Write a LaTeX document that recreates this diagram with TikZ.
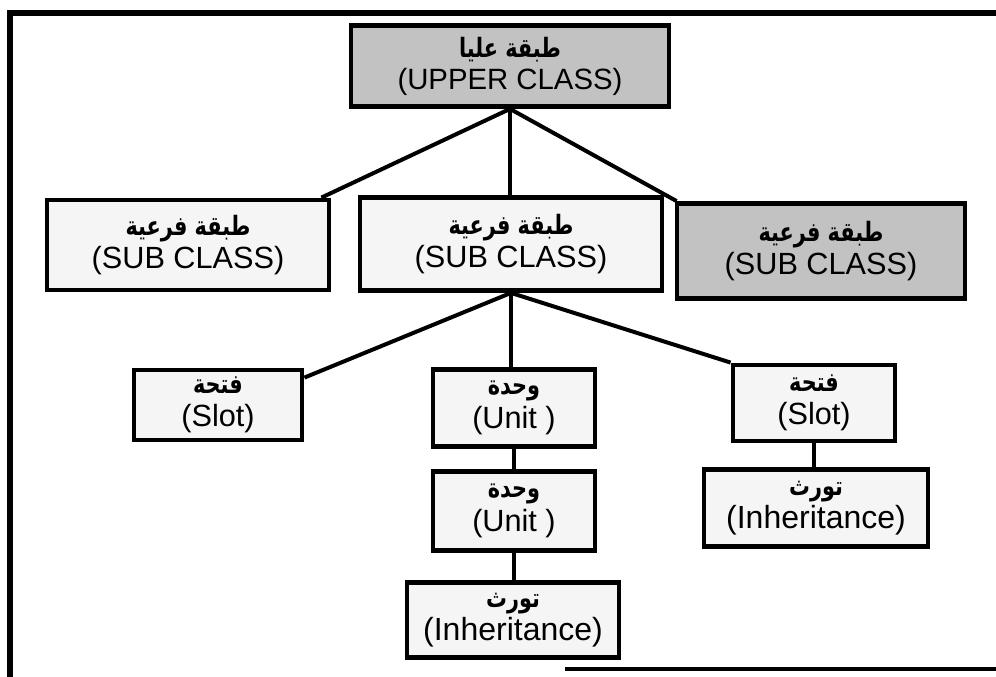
\documentclass[tikz,border=0pt]{standalone}
\usepackage{fontspec}
\setmainfont{Liberation Sans}
\newfontfamily\arabicfont[Script=Arabic]{DejaVu Sans}
\TeXXeTstate=1
\usetikzlibrary{calc}
\newcommand{\artxt}[1]{\scalebox{0.78}[1]{\arabicfont\bfseries\fontsize{20}{22}\selectfont\beginR #1\endR}}
\begin{document}
\begin{tikzpicture}[x=0.75pt,y=-0.75pt,
  bx/.style 2 args={draw=black, line width=3.6pt, rectangle,
    minimum width=#1*0.75pt, minimum height=#2*0.75pt, inner sep=0pt,
    align=center, font=\fontsize{23}{25}\selectfont},
  big/.style={font=\fontsize{24}{25}\selectfont},
  small/.style={font=\fontsize{22}{24}\selectfont},
  dense/.style={fill=black!24},
  light/.style={fill=black!4},
  link/.style={line width=3pt},
  frame/.style={line width=4pt},
]
\useasboundingbox (0,0) rectangle (996,677);
% frame
\coordinate (ftl) at (10,13);
\coordinate (ftr) at (996,13);
\coordinate (fbl) at (10,677);
\coordinate (fb1) at (565,669);
\coordinate (fb2) at (996,669);
\draw[frame] (ftr) -- (ftl) -- (fbl);
\draw[line width=2.5pt] (fb1) -- (fb2);
% nodes
\node[bx={318}{81}, dense, small] (up) at (510,66) {\artxt{طبقة عليا}\\(UPPER CLASS)};
\node[bx={282}{90}, light] (s1) at (188,245) {\artxt{طبقة فرعية}\\(SUB CLASS)};
\node[bx={302}{93}, light] (s2) at (511,244) {\artxt{طبقة فرعية}\\(SUB CLASS)};
\node[bx={288}{95}, dense] (s3) at (821,251) {\artxt{طبقة فرعية}\\(SUB CLASS)};
\node[bx={168}{70}, light] (sl1) at (218,405) {\artxt{فتحة}\\(Slot)};
\node[bx={162}{77}, light] (u1) at (514,408) {\artxt{وحدة}\\(Unit )};
\node[bx={162}{76}, light] (sl2) at (814,403) {\artxt{فتحة}\\(Slot)};
\node[bx={162}{79}, light] (u2) at (514,511) {\artxt{وحدة}\\(Unit )};
\node[bx={224}{77}, light, big] (in2) at (816,508) {\artxt{تورث}\\(Inheritance)};
\node[bx={212}{75}, light, big] (in1) at (513,620) {\artxt{تورث}\\(Inheritance)};
% connectors
\draw[link] (up.south) -- ($(s1.north east)+(-10,0)$);
\draw[link] (up.south) -- (up.south |- s2.north);
\draw[link] (up.south) -- ($(s3.north west)+(2,0)$);
\draw[link] (s2.south) -- ($(sl1.north east)+(0,10)$);
\draw[link] (s2.south) -- (s2.south |- u1.north);
\draw[link] (s2.south) -- (sl2.north west);
\draw[link] (sl2.south) -- (sl2.south |- in2.north);
\draw[link] (u1.south) -- (u1.south |- u2.north);
\draw[link] (u2.south) -- (u2.south |- in1.north);
\end{tikzpicture}
\end{document}
